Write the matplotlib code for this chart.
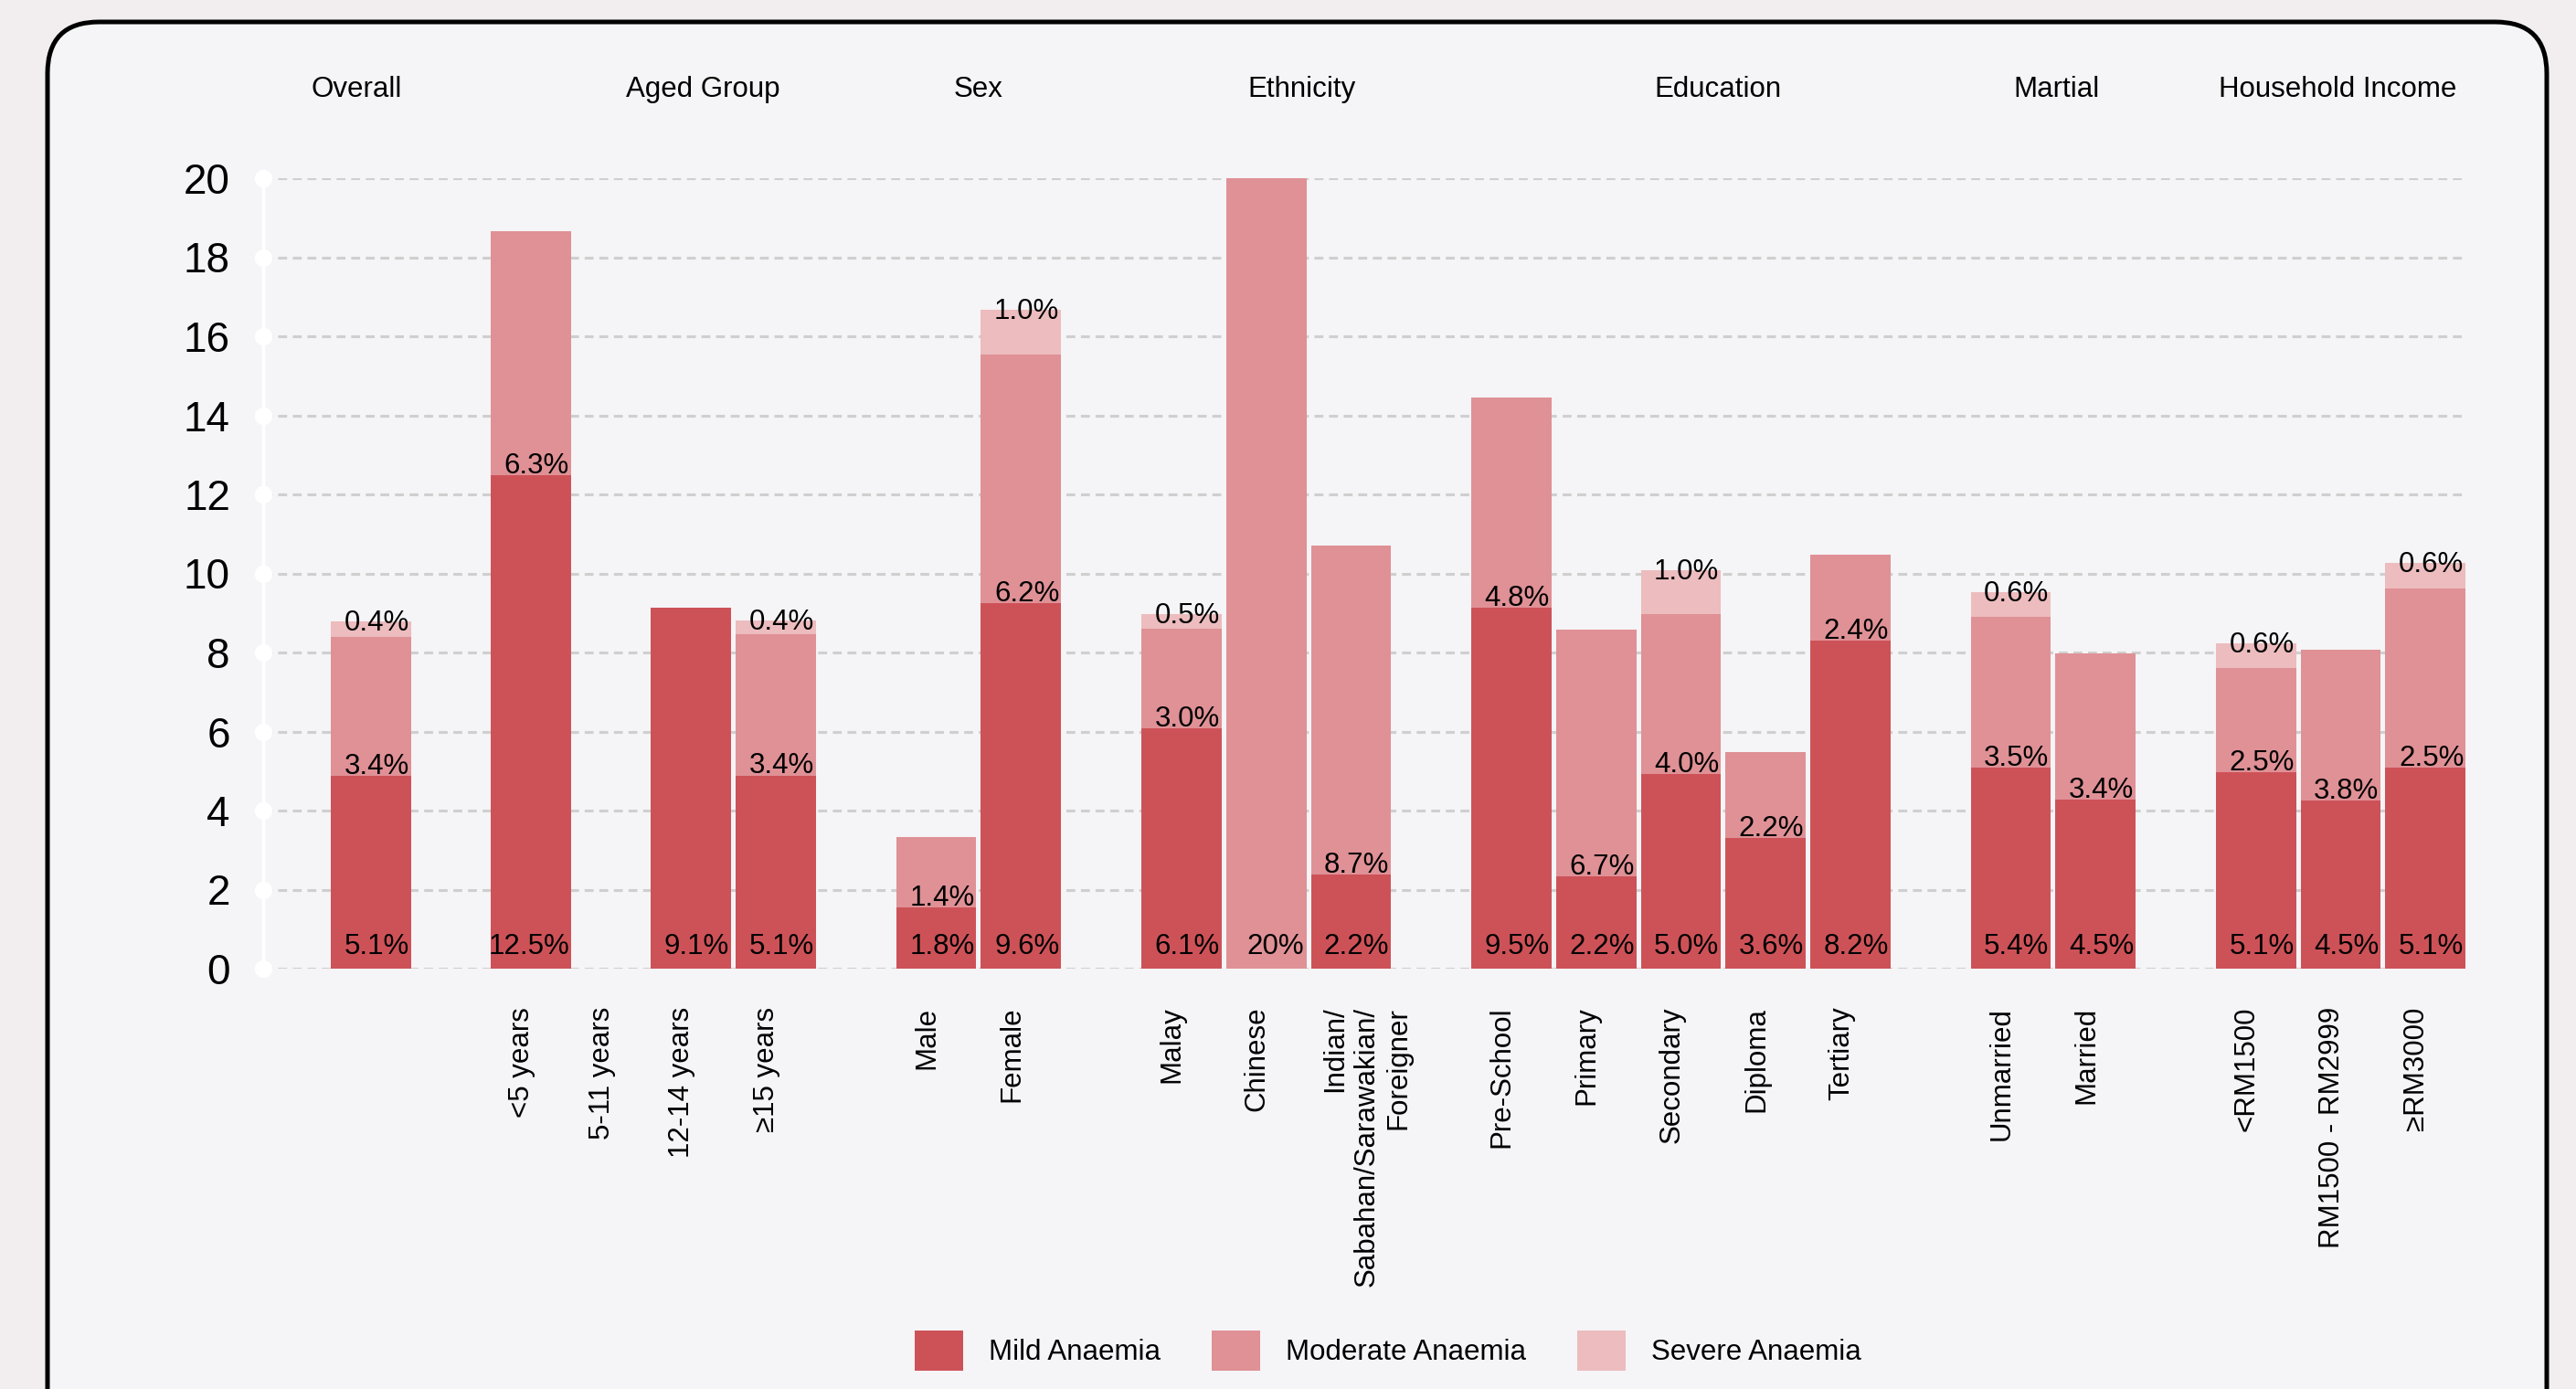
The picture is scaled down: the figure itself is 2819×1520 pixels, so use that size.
import numpy as np
import matplotlib
matplotlib.use("Agg")
import matplotlib.pyplot as plt
from matplotlib.patches import FancyBboxPatch, Patch
from matplotlib.transforms import blended_transform_factory, ScaledTranslation

plt.rcParams['font.family'] = ['Liberation Sans', 'DejaVu Sans']
plt.rcParams['lines.scale_dashes'] = False

# --- Data ---
categories = ['Overall', '<5 years', '5-11 years', '12-14 years', '≥15 years',
              'Male', 'Female',
              'Malay', 'Chinese', 'Indian/\nSabahan/Sarawakian/\nForeigner',
              'Pre-School', 'Primary', 'Secondary', 'Diploma', 'Tertiary',
              'Unmarried', 'Married',
              '<RM1500', 'RM1500 - RM2999', '≥RM3000']
groups = ['Overall', 'Aged Group', 'Sex', 'Ethnicity', 'Education', 'Martial', 'Household Income']
group_sizes = [1, 4, 2, 3, 5, 2, 3]

# bar heights as drawn
mild = [4.88, 12.49, 0, 9.13, 4.89, 1.55, 9.25, 6.09, 0, 2.37,
        9.13, 2.34, 4.93, 3.31, 8.30, 5.09, 4.28, 4.97, 4.26, 5.09]
moderate = [3.52, 6.17, 0, 0, 3.57, 1.78, 6.29, 2.51, 20.0, 8.34,
            5.32, 6.24, 4.04, 2.17, 2.17, 3.81, 3.70, 2.64, 3.81, 4.54]
severe = [0.39, 0, 0, 0, 0.34, 0, 1.13, 0.37, 0, 0,
          0, 0, 1.11, 0, 0, 0.63, 0, 0.62, 0, 0.64]

# printed percentages
mild_labels = ['5.1%', '12.5%', '', '9.1%', '5.1%', '1.8%', '9.6%', '6.1%', '', '2.2%',
               '9.5%', '2.2%', '5.0%', '3.6%', '8.2%', '5.4%', '4.5%', '5.1%', '4.5%', '5.1%']
moderate_labels = ['3.4%', '6.3%', '', '', '3.4%', '1.4%', '6.2%', '3.0%', '20%', '8.7%',
                   '4.8%', '6.7%', '4.0%', '2.2%', '2.4%', '3.5%', '3.4%', '2.5%', '3.8%', '2.5%']
severe_labels = ['0.4%', '', '', '', '0.4%', '', '1.0%', '0.5%', '', '',
                 '', '', '1.0%', '', '', '0.6%', '', '0.6%', '', '0.6%']

series_names = ['Mild Anaemia', 'Moderate Anaemia', 'Severe Anaemia']
colors = ['#CD5258', '#DF9196', '#ECBCBE']

# --- Layout ---
GAP = 1.887
steps = [0, GAP, GAP / 2, GAP / 2, 1, GAP, 1, GAP, 1, 1, GAP, 1, 1, 1, 1, GAP, 1, GAP, 1, 1]
x = np.cumsum(steps)
width = 0.946
title_shift = [-0.17, 0.6, 0.0, 0.42, 0.44, 0.04, -0.04]
XLIM = (x[0] - 1.269, x[-1] + 0.48)

W, H = 2819, 1520
fig = plt.figure(figsize=(W / 100, H / 100), dpi=100)
fig.patch.set_facecolor('#F2EEEF')

# rounded card behind the chart
card = FancyBboxPatch((52 / W, -0.1), (2787 - 52) / W, (1520 - 24) / H + 0.1,
                      boxstyle='round,pad=0,rounding_size=0.02',
                      transform=fig.transFigure, facecolor='#F5F4F6',
                      edgecolor='black', linewidth=3.6, zorder=-1,
                      mutation_aspect=W / H)
fig.patches.append(card)

ax = fig.add_axes([288 / W, 1 - 1060 / H, (2699 - 288) / W, (1060 - 195) / H])
ax.set_facecolor('none')
ax.set_zorder(1)

bottom = np.zeros(len(categories))
for k, (vals, labels, color) in enumerate(zip([mild, moderate, severe],
                                              [mild_labels, moderate_labels, severe_labels], colors)):
    vals = np.array(vals)
    ax.bar(x, vals, width=width, bottom=bottom, color=color, linewidth=0, zorder=2)
    for xi, b, v, lab in zip(x, bottom, vals, labels):
        if not lab:
            continue
        if k == 2:
            # severe: hang from the top of the segment
            y, dy = b + v, -7.2
        else:
            y, dy = b, (11.5 if b == 0 else 1.5)
        ax.annotate(lab, (xi + width / 2, y), xytext=(-1.5, dy), textcoords='offset points',
                    ha='right', va='baseline', fontsize=22.5, color='black', zorder=3,
                    annotation_clip=False)
    bottom = bottom + vals

ax.set_ylim(0, 20)
ax.set_yticks(range(0, 21, 2))
ax.tick_params(axis='y', length=0, pad=26, labelsize=33)
ax.set_xticks(x)
tick_text = ['' if c == 'Overall' else c for c in categories]
ax.set_xticklabels(tick_text, rotation=90, fontsize=22.5)
ax.tick_params(axis='x', length=0, pad=30)
for lbl in ax.get_xticklabels():
    dx = -0.10
    if '\n' in lbl.get_text():
        lbl.set_multialignment('right')
        dx = 0.17
    lbl.set_transform(lbl.get_transform() + ScaledTranslation(dx, 0, fig.dpi_scale_trans))

ax.grid(axis='y', color='#CFCFCF', linewidth=2.2, linestyle=(0, (7, 4.5)), zorder=1)
ax.set_axisbelow(True)
for side in ['top', 'right', 'bottom']:
    ax.spines[side].set_visible(False)
ax.spines['left'].set_color('white')
ax.spines['left'].set_linewidth(2.5)
ax.plot(np.full(11, XLIM[0]), range(0, 21, 2), 'o', color='white',
        markersize=13, clip_on=False, zorder=4)
ax.set_xlim(*XLIM)
ax.set_autoscale_on(False)

# group headings above the plot
trans = blended_transform_factory(ax.transData, fig.transFigure)
start = 0
for name, n, sh in zip(groups, group_sizes, title_shift):
    cx = x[start:start + n].mean() + sh
    ax.text(cx, 1 - 106 / H, name, transform=trans, ha='center', va='baseline',
            fontsize=22.5, color='black')
    start += n

handles = [Patch(facecolor=c, edgecolor='none') for c in colors]
fig.legend(handles, series_names, loc='center', bbox_to_anchor=(1519 / W, 1 - 1478 / H),
           ncol=3, frameon=False, fontsize=22.5, handlelength=1.68, handleheight=1.75,
           handletextpad=0.9, columnspacing=1.8)

fig.savefig('out.png', dpi=100, facecolor=fig.get_facecolor())
